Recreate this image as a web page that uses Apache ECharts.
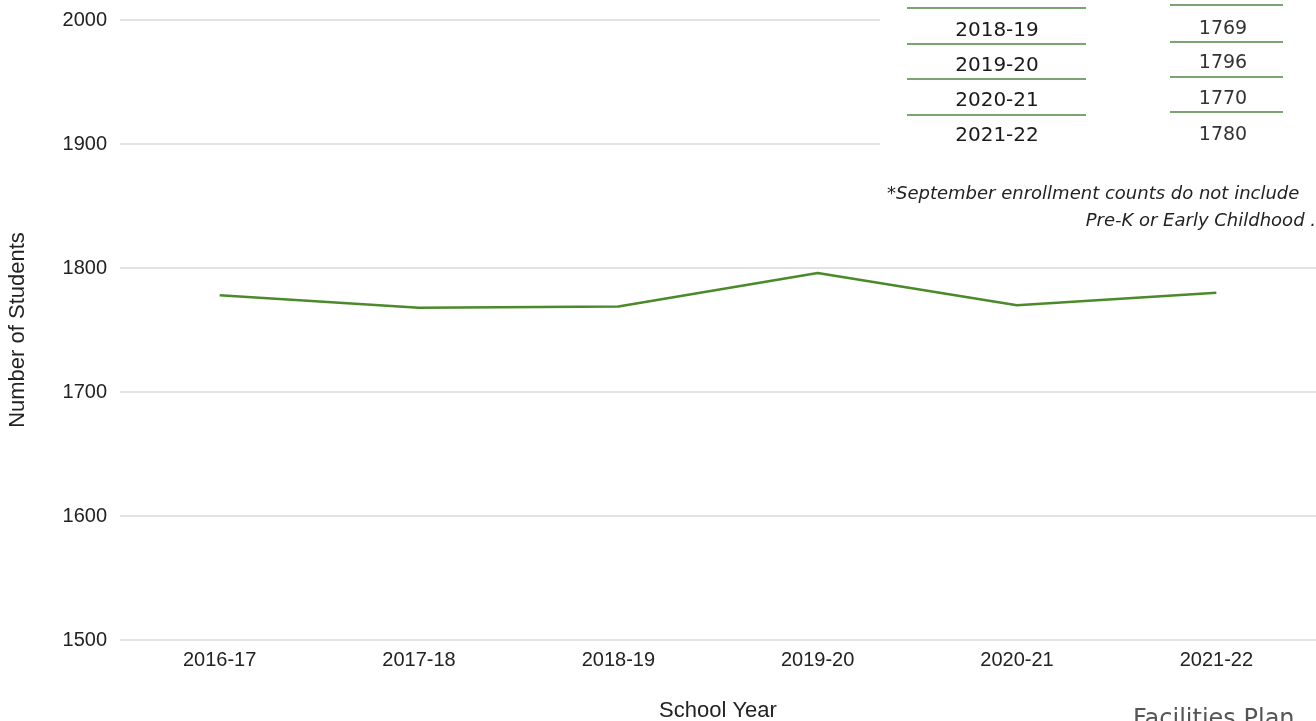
<!DOCTYPE html>
<html>
<head>
<meta charset="utf-8">
<script src="https://cdn.jsdelivr.net/npm/echarts@6/dist/echarts.min.js"></script>
<style>
    html, body { margin: 0; padding: 0; background: #fff; }
    #chart { width: 1316px; height: 721px; }
</style>
</head>
<body>
<div id="chart"></div>
<script>
// 数据
var years = ["2016-17", "2017-18", "2018-19", "2019-20", "2020-21", "2021-22"];
var students = [1778, 1768, 1769, 1796, 1770, 1780];

// 右上角表格 (只露出下半部分)
var tableYears = ["2018-19", "2019-20", "2020-21", "2021-22"];
var tableCounts = ["1769", "1796", "1770", "1780"];

var green = "#4a8a28";
var tableLine = "#7aa572";

var myChart = echarts.init(document.getElementById("chart"));

var graphics = [
    // 表格区域盖住网格线
    {
        type: "rect",
        shape: { x: 880, y: 0, width: 436, height: 240 },
        style: { fill: "#fff" },
        z: 10,
    },
];

// 表格横线
var leftLines = [8, 44, 79, 115];
var rightLines = [5, 42, 77, 112];
for (let i = 0; i < leftLines.length; i++) {
    graphics.push({
        type: "line",
        shape: { x1: 907, y1: leftLines[i], x2: 1086, y2: leftLines[i] },
        style: { stroke: tableLine, lineWidth: 2 },
        z: 11,
    });
    graphics.push({
        type: "line",
        shape: { x1: 1170, y1: rightLines[i], x2: 1283, y2: rightLines[i] },
        style: { stroke: tableLine, lineWidth: 2 },
        z: 11,
    });
}
var rowY = [31, 66, 101, 136];
var rowY2 = [29, 63, 99, 135];
for (let i = 0; i < tableYears.length; i++) {
    graphics.push({
        type: "text",
        x: 997,
        y: rowY[i],
        style: {
            text: tableYears[i],
            font: "20px 'DejaVu Sans', sans-serif",
            fill: "#1a1a1a",
            align: "center",
            verticalAlign: "middle",
        },
        z: 11,
    });
    graphics.push({
        type: "text",
        x: 1223,
        y: rowY2[i],
        style: {
            text: tableCounts[i],
            font: "19px 'DejaVu Sans', sans-serif",
            fill: "#333",
            align: "center",
            verticalAlign: "middle",
        },
        z: 11,
    });
}

// 脚注
graphics.push({
    type: "text",
    x: 887,
    y: 194,
    style: {
        text: "*September enrollment counts do not include",
        font: "italic 18px 'DejaVu Sans', sans-serif",
        fill: "#222",
        verticalAlign: "middle",
    },
    z: 11,
});
graphics.push({
    type: "text",
    x: 1316,
    y: 221,
    style: {
        text: "Pre-K or Early Childhood .",
        font: "italic 18px 'DejaVu Sans', sans-serif",
        fill: "#222",
        align: "right",
        verticalAlign: "middle",
    },
    z: 11,
});
// 页脚
graphics.push({
    type: "text",
    x: 1133,
    y: 708,
    style: {
        text: "Facilities Plan",
        font: "24px 'DejaVu Sans', sans-serif",
        fill: "#555",
    },
    z: 11,
});

var option = {
    animation: false,
    grid: {
        left: 120,
        right: 0,
        top: 20,
        bottom: 81,
        outerBoundsMode: "none",
        containLabel: false,
    },
    xAxis: {
        type: "category",
        data: years,
        boundaryGap: true,
        name: "School Year",
        nameLocation: "middle",
        nameGap: 60,
        nameTextStyle: {
            color: "#222",
            fontSize: 22,
            fontFamily: "Liberation Sans",
        },
        axisLine: { show: false },
        axisTick: { show: false },
        axisLabel: {
            color: "#222",
            fontSize: 20,
            fontFamily: "Liberation Sans",
            margin: 10,
        },
    },
    yAxis: {
        type: "value",
        min: 1500,
        max: 2000,
        interval: 100,
        name: "Number of Students",
        nameLocation: "middle",
        nameRotate: 90,
        nameGap: 91,
        nameTextStyle: {
            color: "#222",
            fontSize: 22,
            fontFamily: "Liberation Sans",
        },
        axisLine: { show: false },
        axisTick: { show: false },
        axisLabel: {
            color: "#222",
            fontSize: 20,
            fontFamily: "Liberation Sans",
            margin: 13,
            formatter: function (v) {
                return String(v);
            },
        },
        splitLine: {
            lineStyle: { color: "#d9d9d9", width: 1.5 },
        },
    },
    series: [
        {
            type: "line",
            data: students,
            showSymbol: false,
            symbol: "none",
            lineStyle: { color: green, width: 2.5 },
            itemStyle: { color: green },
        },
    ],
    graphic: graphics,
};

myChart.setOption(option);
</script>
</body>
</html>
